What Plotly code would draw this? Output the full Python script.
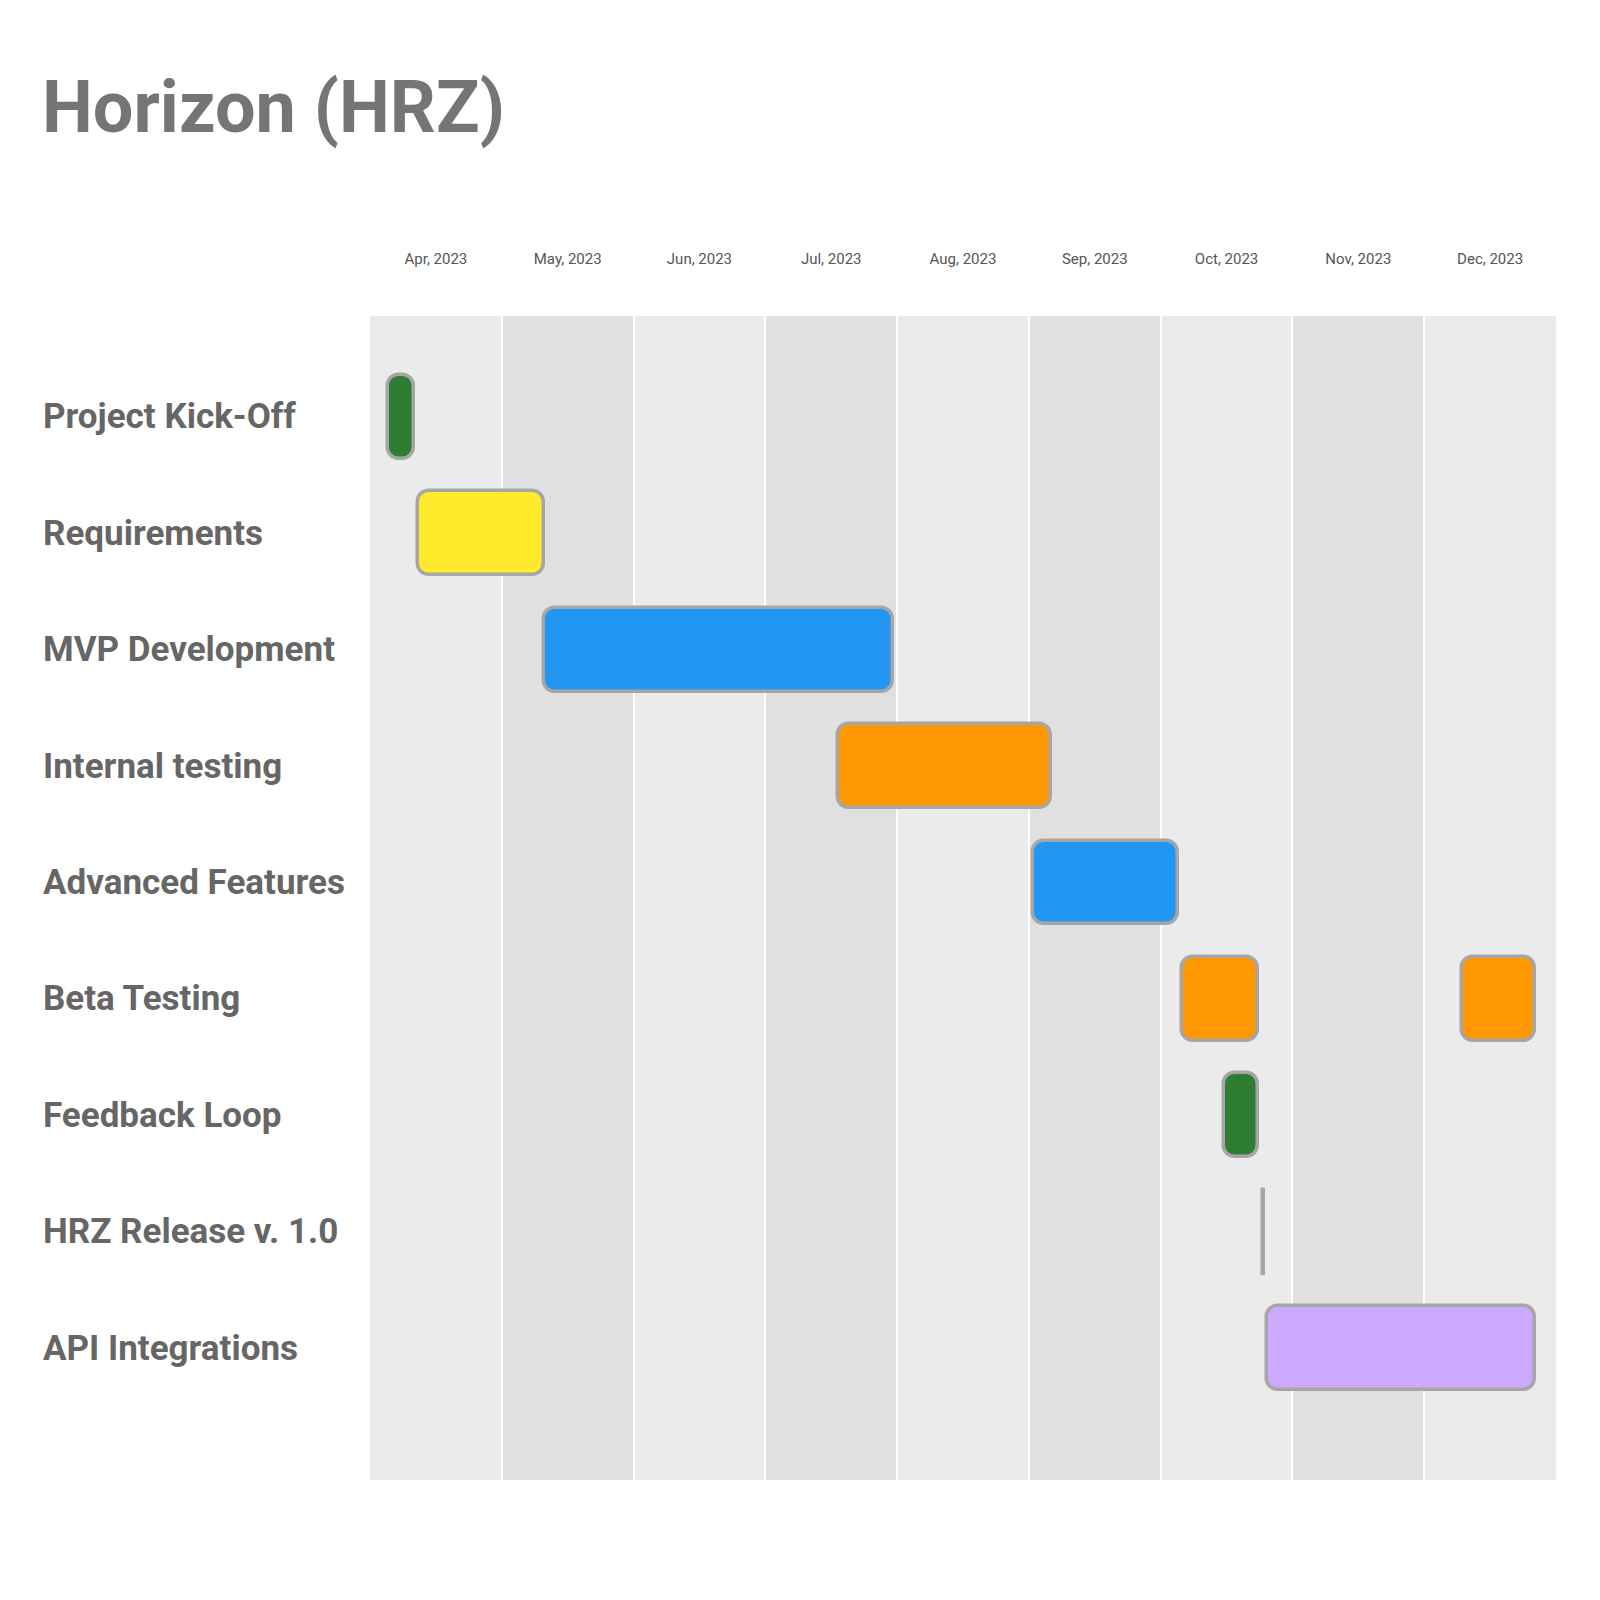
import pandas as pd
import plotly.graph_objects as go

# ---------------- data ----------------
title_text = "Horizon (HRZ)"
tasks = ["Project Kick-Off", "Requirements", "MVP Development", "Internal testing",
         "Advanced Features", "Beta Testing", "Feedback Loop", "HRZ Release v. 1.0",
         "API Integrations"]

seg_task = ["Project Kick-Off", "Requirements", "MVP Development", "Internal testing",
            "Advanced Features", "Beta Testing", "Beta Testing", "Feedback Loop",
            "API Integrations"]
seg_start = ["2023-04-05", "2023-04-12", "2023-05-11", "2023-07-18",
             "2023-09-02", "2023-10-06", "2023-12-10", "2023-10-16", "2023-10-26"]
seg_end = ["2023-04-11", "2023-05-11", "2023-07-31", "2023-09-06",
           "2023-10-05", "2023-10-24", "2023-12-27", "2023-10-24", "2023-12-27"]
seg_color = ["#2e7d32", "#ffeb2b", "#2196f3", "#ff9800",
             "#2196f3", "#ff9800", "#ff9800", "#2e7d32", "#caa9fe"]

milestone_task = ["HRZ Release v. 1.0"]
milestone_date = ["2023-10-25"]

month_starts = ["2023-04-01", "2023-05-01", "2023-06-01", "2023-07-01", "2023-08-01",
                "2023-09-01", "2023-10-01", "2023-11-01", "2023-12-01"]
month_labels = ["Apr, 2023", "May, 2023", "Jun, 2023", "Jul, 2023", "Aug, 2023",
                "Sep, 2023", "Oct, 2023", "Nov, 2023", "Dec, 2023"]

# ---------------- styling ----------------
BORDER = "#a6a6a6"
BAR_W = 0.72
LINE_W = 3.5
RADIUS = 12
FONT = "Roboto"

# timeline scale: every month gets the same width
first = pd.Timestamp(month_starts[0])


def mpos(d):
    d = pd.Timestamp(d)
    idx = (d.year - first.year) * 12 + (d.month - first.month)
    frac = (d.day - 1 + (d - d.normalize()).total_seconds() / 86400) / d.days_in_month
    return idx + frac


seg_base = [mpos(s) for s in seg_start]
seg_len = [mpos(e) - mpos(s) for s, e in zip(seg_start, seg_end)]
ms_base = [mpos(d) for d in milestone_date]
ms_len = [mpos(pd.Timestamp(d) + pd.Timedelta(hours=6)) - mpos(d) for d in milestone_date]

fig = go.Figure()

fig.add_trace(go.Bar(
    y=seg_task, base=seg_base, x=seg_len, orientation="h", width=BAR_W,
    marker=dict(color=seg_color, line=dict(color=BORDER, width=LINE_W), cornerradius=RADIUS),
    hoverinfo="skip", showlegend=False))

# milestone (zero-length task)
fig.add_trace(go.Bar(
    y=milestone_task, base=ms_base, x=ms_len, orientation="h", width=BAR_W,
    marker=dict(color=BORDER, line=dict(color=BORDER, width=LINE_W)),
    hoverinfo="skip", showlegend=False))

n_months = len(month_starts)
# alternating month bands
for i in range(n_months):
    if i % 2 == 1:
        fig.add_shape(type="rect", xref="x", yref="paper",
                      x0=i, x1=i + 1, y0=0, y1=1,
                      fillcolor="#e0e0e0", line=dict(width=0), layer="below")

# task labels
for t in tasks:
    fig.add_annotation(x=-0.2774, xref="paper", y=t, yref="y", text=t,
                       showarrow=False, xanchor="left", yanchor="middle",
                       font=dict(family=FONT, size=35, color="#666666", weight="bold"))

fig.update_layout(
    width=1600, height=1600,
    margin=dict(l=370, r=44, t=316, b=120),
    paper_bgcolor="white", plot_bgcolor="#ebebeb",
    barmode="overlay", bargap=0,
    hovermode=False,
    title=dict(text=title_text, xref="container", yref="container",
               x=42 / 1600, y=1 - 107 / 1600, xanchor="left", yanchor="middle",
               font=dict(family=FONT, size=72, color="#757575", weight="bold")),
    xaxis=dict(type="linear", side="top", range=[0, n_months],
               tickvals=[i + 0.5 for i in range(n_months)], ticktext=month_labels,
               ticks="", ticklabelstandoff=48,
               tickfont=dict(family=FONT, size=15, color="#555555"),
               showgrid=False,
               minor=dict(tickvals=list(range(1, n_months)), showgrid=True,
                          gridcolor="white", gridwidth=2, ticks=""),
               zeroline=False, showline=False, fixedrange=True),
    yaxis=dict(type="category", categoryorder="array", categoryarray=tasks,
               range=[len(tasks) - 1 + 1.134, -0.866],
               showticklabels=False, showgrid=False, zeroline=False, showline=False,
               ticks="", fixedrange=True),
)

fig.write_html("out.html")
